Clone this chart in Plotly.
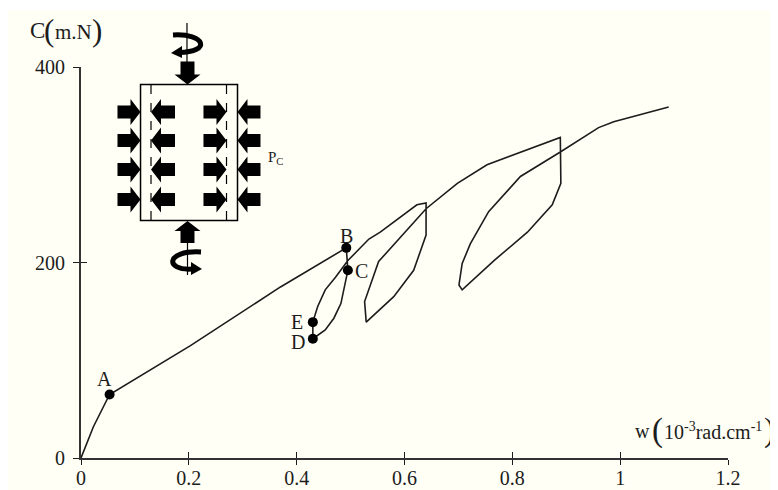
import plotly.graph_objects as go

# curve: w (10^-3 rad/cm), C (m.N)
curve_w = [0, 0.023, 0.053, 0.129, 0.203, 0.37, 0.492, 0.495, 0.49, 0.482, 0.469, 0.453, 0.43, 0.43,
           0.439, 0.453, 0.472, 0.495, 0.534, 0.555, 0.623, 0.64, 0.64, 0.617, 0.58, 0.529,
           0.526, 0.552, 0.64, 0.698, 0.753, 0.815, 0.889, 0.89, 0.874, 0.828, 0.766, 0.707,
           0.701, 0.707, 0.722, 0.756, 0.815, 0.889, 0.96, 0.988, 1.09]
curve_c = [0, 32, 65, 90, 115, 175, 215, 192, 179, 158, 143, 131, 122, 139,
           155, 172, 185, 202, 224, 231, 259, 261, 228, 192, 165, 139,
           160, 201, 255, 281, 300, 313, 328, 281, 259, 231, 202, 172,
           177, 199, 219, 252, 288, 313, 338, 344, 359]

point_names = ["A", "B", "C", "D", "E"]
point_w = [0.053, 0.492, 0.495, 0.43, 0.43]
point_c = [65, 215, 192, 122, 139]

x_ticks = [0, 0.2, 0.4, 0.6, 0.8, 1, 1.2]
x_labels = ["0", "0.2", "0.4", "0.6", "0.8", "1", "1.2"]
y_ticks = [0, 200, 400]
y_labels = ["0", "200", "400"]

INK = "#1c1c1c"
PAPER = "#fffff5"
SERIF = "Liberation Serif"


# the sketch and the labels are placed in page pixels
def px(x):
    return (x - 81) / 647


def py(y):
    return (458 - y) / 391


def path(points, close=True):
    d = "M " + " L ".join(f"{px(x):.4f},{py(y):.4f}" for x, y in points)
    return d + (" Z" if close else "")


def curve_path(start, c1, c2, end):
    return (f"M {px(start[0]):.4f},{py(start[1]):.4f} "
            f"C {px(c1[0]):.4f},{py(c1[1]):.4f} {px(c2[0]):.4f},{py(c2[1]):.4f} {px(end[0]):.4f},{py(end[1]):.4f}")


def solid(d):
    return dict(type="path", xref="paper", yref="paper", path=d, fillcolor="black", line=dict(width=0))


def stroke(d, width, dash="solid"):
    return dict(type="path", xref="paper", yref="paper", path=d, line=dict(color="black", width=width, dash=dash))


def h_arrow(tail, tip, yc):
    s = 1 if tip > tail else -1
    neck = tip - s * 10
    return path([(tail, yc - 6.5), (neck, yc - 6.5), (neck, yc - 13), (tip, yc), (neck, yc + 13), (neck, yc + 6.5), (tail, yc + 6.5)])


def v_arrow(tail, tip, xc):
    s = 1 if tip > tail else -1
    neck = tip - s * 10
    return path([(xc - 7, tail), (xc - 7, neck), (xc - 13, neck), (xc, tip), (xc + 13, neck), (xc + 7, neck), (xc + 7, tail)])


def label(text, x, y, size=18):
    return dict(text=text, xref="paper", yref="paper", x=px(x), y=py(y), showarrow=False,
                font=dict(family=SERIF, size=size, color=INK), xanchor="center", yanchor="middle")


shapes = [
    dict(type="rect", xref="paper", yref="paper", x0=px(8), x1=px(778), y0=py(10), y1=py(8),
         fillcolor="white", line=dict(width=0), layer="below"),
    # specimen
    stroke(path([(140.5, 84.5), (237.5, 84.5), (237.5, 220.5), (140.5, 220.5)]), 1.5),
    stroke(path([(151, 85), (151, 220)], close=False), 1.2, "dash"),
    stroke(path([(226.5, 85), (226.5, 220)], close=False), 1.2, "dash"),
    # axial arrows
    solid(v_arrow(61.5, 84.5, 187.5)),
    solid(v_arrow(243, 221, 187.5)),
    # torque
    stroke(path([(187, 23), (187, 62)], close=False), 1.2),
    stroke(path([(187.5, 243), (187.5, 275)], close=False), 1.2),
    stroke(curve_path((173, 35), (205, 33), (212, 52), (179, 52.5)), 5),
    solid(path([(182, 46), (171, 53), (182, 58)])),
    stroke(curve_path((201, 252), (165, 250), (165, 271), (192, 269)), 5),
    solid(path([(191, 262), (202, 269), (191, 275)])),
]

for yc in [112, 140.5, 169.5, 199.5]:
    shapes.append(solid(h_arrow(117.5, 140.5, yc)))
    shapes.append(solid(h_arrow(175, 151, yc)))
    shapes.append(solid(h_arrow(203.5, 226.5, yc)))
    shapes.append(solid(h_arrow(260.5, 237.5, yc)))

annotations = [
    label("C", 37, 31, 23),
    label("(", 49, 30, 31),
    label("m.N", 73, 32, 21),
    label(")", 97, 30, 31),
    label("P<sub>C</sub>", 275, 158, 15),
    label("w", 642, 431, 20),
    label("(", 657, 430, 33),
    label("10<sup>-3</sup>rad.cm<sup>-1</sup>", 713, 431, 20),
    label(")", 769, 430, 33),
    label("A", 104, 379, 20),
    label("B", 346, 236, 20),
    label("C", 361, 271, 20),
    label("D", 298, 342, 20),
    label("E", 297, 322, 20),
]

fig = go.Figure()
fig.add_trace(go.Scatter(x=curve_w, y=curve_c, mode="lines", line=dict(color=INK, width=1.6), showlegend=False))
fig.add_trace(go.Scatter(x=point_w, y=point_c, mode="markers", text=point_names,
                         marker=dict(color="black", size=10), showlegend=False))
# second pair of axes only carries the inner half of the ticks
fig.add_trace(go.Scatter(x=[0], y=[0], mode="lines", xaxis="x2", yaxis="y2", showlegend=False))

axis_font = dict(family=SERIF, size=20, color=INK)
fig.update_layout(
    width=770,
    height=482,
    margin=dict(l=73, r=50, t=59, b=32, autoexpand=False),
    paper_bgcolor=PAPER,
    plot_bgcolor=PAPER,
    shapes=shapes,
    annotations=annotations,
    xaxis=dict(range=[0, 1.2], tickmode="array", tickvals=x_ticks, ticktext=x_labels, ticks="outside",
               ticklen=5, tickwidth=1.3, tickcolor=INK, showgrid=False, zeroline=False, ticklabelstandoff=-4,
               showline=True, linecolor="#333333", linewidth=1.6, tickfont=axis_font),
    yaxis=dict(range=[0, 400], tickmode="array", tickvals=y_ticks, ticktext=y_labels, ticks="outside",
               ticklen=6, tickwidth=1.3, tickcolor=INK, showgrid=False, zeroline=False,
               showline=True, linecolor="#333333", linewidth=1.8, tickfont=axis_font, ticklabelstandoff=4),
    xaxis2=dict(range=[0, 1.2], overlaying="x", anchor="y2", tickmode="array", tickvals=x_ticks, ticks="inside",
                ticklen=6, tickwidth=1.3, tickcolor=INK, showticklabels=False, showgrid=False, zeroline=False),
    yaxis2=dict(range=[0, 400], overlaying="y", anchor="x2", tickmode="array", tickvals=[200, 400], ticks="inside",
                ticklen=6, tickwidth=1.3, tickcolor=INK, showticklabels=False, showgrid=False, zeroline=False),
)

fig.write_html("out.html")
